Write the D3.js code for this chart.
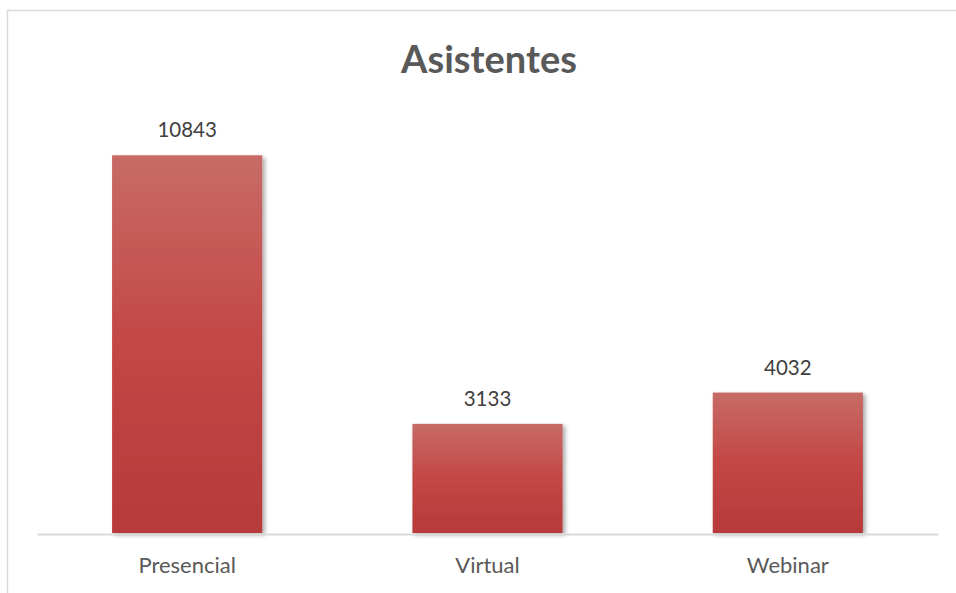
<!DOCTYPE html>
<html>
<head>
<meta charset="utf-8">
<script src="https://cdn.jsdelivr.net/npm/d3@7"></script>
<style>
  html, body { margin: 0; padding: 0; background: #fff; }
  svg { display: block; }
</style>
</head>
<body>
<script>
const categories = ["Presencial", "Virtual", "Webinar"];
const values = [10843, 3133, 4032];
const title = "Asistentes";

const W = 956, H = 593;
const svg = d3.select("body").append("svg").attr("width", W).attr("height", H);

const defs = svg.append("defs");
const grad = defs.append("linearGradient").attr("id", "barGrad")
  .attr("x1", 0).attr("y1", 0).attr("x2", 0).attr("y2", 1);
grad.append("stop").attr("offset", "0%").attr("stop-color", "#c76b67");
grad.append("stop").attr("offset", "50%").attr("stop-color", "#c34745");
grad.append("stop").attr("offset", "100%").attr("stop-color", "#b73a3a");

const shadow = defs.append("filter").attr("id", "shadow")
  .attr("x", "-10%").attr("y", "-10%").attr("width", "130%").attr("height", "130%");
shadow.append("feDropShadow").attr("dx", 2.5).attr("dy", 2).attr("stdDeviation", 2)
  .attr("flood-color", "#000").attr("flood-opacity", 0.35);

// chart area border (extends past the window on right and bottom)
svg.append("rect").attr("x", 7.5).attr("y", 10.5).attr("width", W).attr("height", H)
  .attr("fill", "none").attr("stroke", "#d9d9d9").attr("stroke-width", 1.5);

const plot = { left: 37, right: 938, top: 115, bottom: 533 };

const x = d3.scaleBand().domain(categories).range([plot.left, plot.right])
  .paddingInner(0.5).paddingOuter(0.25);
const y = d3.scaleLinear().domain([0, 12000]).range([plot.bottom, plot.top]);

const data = categories.map((c, i) => ({ c, v: values[i] }));

svg.append("g").selectAll("rect").data(data).join("rect")
  .attr("x", d => x(d.c))
  .attr("y", d => y(d.v))
  .attr("width", x.bandwidth())
  .attr("height", d => y(0) - y(d.v))
  .attr("fill", "url(#barGrad)")
  .attr("filter", "url(#shadow)");

// category axis
const xAxis = svg.append("g").attr("transform", `translate(0,${plot.bottom + 1})`)
  .call(d3.axisBottom(x).tickSize(0).tickPadding(23));
xAxis.select(".domain").attr("stroke", "#d9d9d9").attr("stroke-width", 1.8);
xAxis.selectAll("text")
  .attr("font-family", "Lato, 'Open Sans', sans-serif")
  .attr("font-size", 22)
  .attr("fill", "#595959");

// value labels
svg.append("g").selectAll("text").data(data).join("text")
  .attr("x", d => x(d.c) + x.bandwidth() / 2)
  .attr("y", d => y(d.v) - 18)
  .attr("text-anchor", "middle")
  .attr("font-family", "Lato, 'Open Sans', sans-serif")
  .attr("font-size", 20.5)
  .attr("fill", "#404040")
  .text(d => d.v);

// title
svg.append("text").attr("x", 489).attr("y", 73)
  .attr("text-anchor", "middle")
  .attr("font-family", "Lato, 'Open Sans', sans-serif")
  .attr("font-weight", "bold")
  .attr("font-size", 38)
  .attr("fill", "#595959")
  .text(title);
</script>
</body>
</html>
